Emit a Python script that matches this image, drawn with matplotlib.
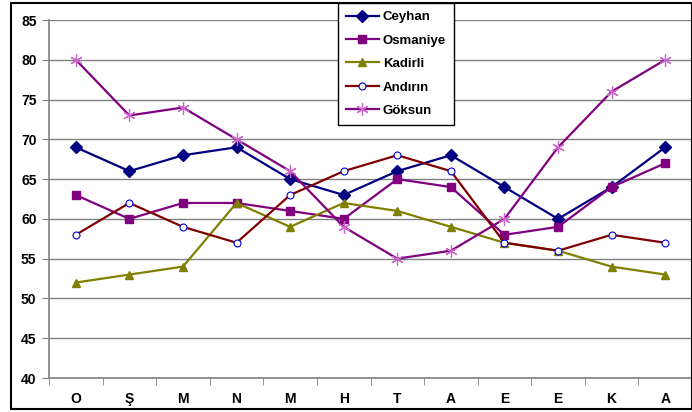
import matplotlib.pyplot as plt
from matplotlib.patches import Rectangle
from matplotlib.ticker import FixedLocator
import numpy as np

plt.rcParams['font.family'] = ['Liberation Sans', 'DejaVu Sans']

months = ['O', 'Ş', 'M', 'N', 'M', 'H', 'T', 'A', 'E', 'E', 'K', 'A']
ceyhan = [69, 66, 68, 69, 65, 63, 66, 68, 64, 60, 64, 69]
osmaniye = [63, 60, 62, 62, 61, 60, 65, 64, 58, 59, 64, 67]
kadirli = [52, 53, 54, 62, 59, 62, 61, 59, 57, 56, 54, 53]
andirin = [58, 62, 59, 57, 63, 66, 68, 66, 57, 56, 58, 57]
goksun = [80, 73, 74, 70, 66, 59, 55, 56, 60, 69, 76, 80]

fig = plt.figure(figsize=(6.92, 4.12), dpi=100)
ax = fig.add_axes([49/692, 1 - 378/412, 1 - 49/692, (378 - 20)/412])

# outer chart frame
fig.patches.append(Rectangle((11/692, 3/412), 1 - 11/692, 1 - 6/412,
                             transform=fig.transFigure, fill=False,
                             edgecolor='black', linewidth=1.5))

x = np.arange(len(months))
ax.plot(x, ceyhan, color='#000080', marker='D', markersize=6, lw=1.6, label='Ceyhan')
ax.plot(x, osmaniye, color='#800080', marker='s', markersize=6, lw=1.6, label='Osmaniye')
ax.plot(x, kadirli, color='#808000', marker='^', markersize=6, lw=1.6, label='Kadirli')
ax.plot(x, andirin, color='#800000', marker='o', markersize=5, lw=1.6,
        markerfacecolor='white', markeredgecolor='#0000CC', markeredgewidth=0.8, label='Andırın')
ax.plot(x, goksun, color='#800080', marker=(6, 2, 0), markersize=9, lw=1.6,
        markeredgecolor='#CC66CC', markeredgewidth=0.9, label='Göksun')

ax.set_xlim(-0.5, len(months) - 0.5)
ax.set_ylim(40, 85)
ax.set_yticks(range(40, 86, 5))
ax.yaxis.grid(True, color='#808080', lw=1)
ax.set_axisbelow(True)

ax.set_xticks(x)
ax.set_xticklabels(months)
ax.xaxis.set_minor_locator(FixedLocator(np.arange(-0.5, len(months), 1)))
ax.tick_params(axis='x', which='major', length=0, pad=10, labelsize=10)
ax.tick_params(axis='x', which='minor', length=5, color='#808080', direction='out')
ax.tick_params(axis='y', length=5, color='#808080', labelsize=10, pad=4)
for lbl in ax.get_xticklabels() + ax.get_yticklabels():
    lbl.set_fontweight('bold')

for s in ['top', 'right']:
    ax.spines[s].set_visible(False)
ax.spines['left'].set_color('#808080')
ax.spines['bottom'].set_color('#808080')
ax.spines['left'].set_linewidth(1.2)
ax.spines['bottom'].set_linewidth(1.2)

leg = ax.legend(loc='upper left', bbox_to_anchor=(338/692, 1 - 3/412),
                bbox_transform=fig.transFigure, fancybox=False, framealpha=1,
                edgecolor='black', prop={'weight': 'bold', 'size': 9.5},
                handlelength=2.5, labelspacing=0.85, borderpad=0.6,
                handletextpad=0.3, borderaxespad=0)
leg.get_frame().set_linewidth(1)

fig.savefig('out.png', dpi=100)
